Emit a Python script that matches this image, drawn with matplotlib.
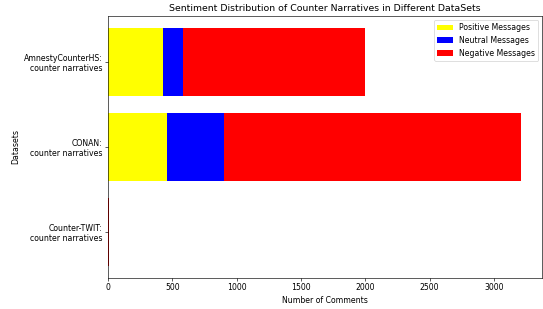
import matplotlib
matplotlib.use("Agg")
import matplotlib.pyplot as plt
import numpy as np

datasets = ["Counter-TWIT:\ncounter narratives", "CONAN:\ncounter narratives", "AmnestyCounterHS:\ncounter narratives"]
positive = np.array([0, 457, 426])
neutral = np.array([0, 447, 159])
negative = np.array([9, 2309, 1415])

DPI = 56.2
fig = plt.figure(figsize=(543 / DPI, 309 / DPI), dpi=DPI)
ax = fig.add_axes([108 / 543, 31 / 309, 434 / 543, 262 / 309])

ax.barh(datasets, positive, color="yellow", label="Positive Messages")
ax.barh(datasets, neutral, left=positive, color="blue", label="Neutral Messages")
ax.barh(datasets, negative, left=positive + neutral, color="red", label="Negative Messages")

ax.set_xlabel("Number of Comments")
ax.set_ylabel("Datasets")
ax.set_title("Sentiment Distribution of Counter Narratives in Different DataSets", fontsize=12)
ax.legend(loc="upper right")

fig.savefig("out.png", dpi=DPI)
